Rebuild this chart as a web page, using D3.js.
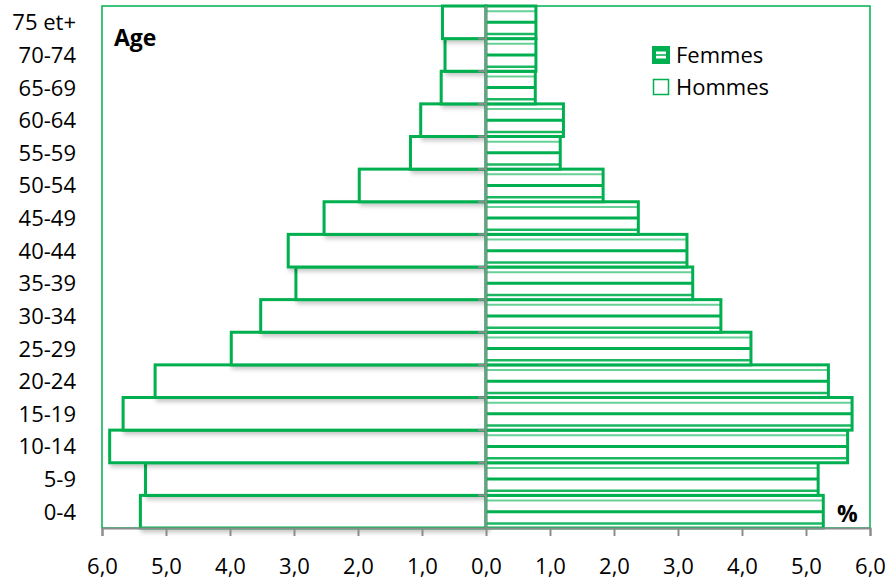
<!DOCTYPE html>
<html>
<head>
<meta charset="utf-8">
<script src="https://cdn.jsdelivr.net/npm/d3@7"></script>
<style>
  body { margin: 0; background: #fff; }
  text { font-family: "Open Sans", sans-serif; }
</style>
</head>
<body>
<svg id="pyramid"></svg>
<script>
const width = 890;
const height = 587;
const margin = {top: 6, right: 20, bottom: 59, left: 102};

// Data (in %)
const ages = ["0-4", "5-9", "10-14", "15-19", "20-24", "25-29", "30-34", "35-39",
              "40-44", "45-49", "50-54", "55-59", "60-64", "65-69", "70-74", "75 et+"];
const hommes = [5.40, 5.32, 5.88, 5.67, 5.17, 3.98, 3.52, 2.97, 3.09, 2.53, 1.98, 1.18, 1.02, 0.70, 0.64, 0.68];
const femmes = [5.27, 5.19, 5.65, 5.72, 5.35, 4.14, 3.67, 3.23, 3.14, 2.38, 1.83, 1.16, 1.21, 0.77, 0.78, 0.78];
const xTicks = [-6, -5, -4, -3, -2, -1, 0, 1, 2, 3, 4, 5, 6];

const green = "#00B050";
const grey = "#8c8c8c";

const svg = d3.select("#pyramid")
  .attr("width", width)
  .attr("height", height);

const defs = svg.append("defs");
const shadow = defs.append("filter")
  .attr("id", "shadow")
  .attr("x", "-10%").attr("y", "-30%")
  .attr("width", "120%").attr("height", "160%");
shadow.append("feDropShadow")
  .attr("dx", 2).attr("dy", 3)
  .attr("stdDeviation", 2)
  .attr("flood-color", "#000")
  .attr("flood-opacity", 0.22);

const x = d3.scaleLinear()
  .domain([-6, 6])
  .range([margin.left, width - margin.right]);

const y = d3.scaleBand()
  .domain(ages.slice().reverse())
  .range([margin.top, height - margin.bottom])
  .paddingInner(0);

const bw = y.bandwidth();

// Plot border
svg.append("rect")
  .attr("x", x(-6))
  .attr("y", margin.top)
  .attr("width", x(6) - x(-6))
  .attr("height", height - margin.bottom - margin.top)
  .attr("fill", "none")
  .attr("stroke", green)
  .attr("stroke-width", 1.5);

// Hommes (left)
svg.append("g")
  .selectAll("rect")
  .data(ages)
  .enter()
  .append("rect")
    .attr("x", (d, i) => x(-hommes[i]))
    .attr("y", d => y(d))
    .attr("width", (d, i) => x(0) - x(-hommes[i]))
    .attr("height", bw)
    .attr("fill", "#fff")
    .attr("stroke", green)
    .attr("stroke-width", 3)
    .attr("filter", "url(#shadow)");

// Femmes (right)
const fem = svg.append("g")
  .selectAll("g")
  .data(ages)
  .enter()
  .append("g");

fem.append("rect")
  .attr("x", x(0))
  .attr("y", d => y(d))
  .attr("width", (d, i) => x(femmes[i]) - x(0))
  .attr("height", bw)
  .attr("fill", "#fff")
  .attr("stroke", green)
  .attr("stroke-width", 3);

// horizontal stripes inside femmes bars
[{f: 0.16, w: 2, o: 0.6}, {f: 0.5, w: 3, o: 1}, {f: 0.86, w: 2.5, o: 0.9}].forEach(s => {
  fem.append("line")
    .attr("x1", x(0))
    .attr("x2", (d, i) => x(femmes[i]))
    .attr("y1", d => y(d) + bw * s.f)
    .attr("y2", d => y(d) + bw * s.f)
    .attr("stroke", green)
    .attr("stroke-width", s.w)
    .attr("stroke-opacity", s.o);
});

// Central axis with ticks at band edges
const center = svg.append("g");
center.append("line")
  .attr("x1", x(0)).attr("x2", x(0))
  .attr("y1", margin.top).attr("y2", height - margin.bottom)
  .attr("stroke", grey)
  .attr("stroke-width", 2);
center.selectAll("line.tk")
  .data(ages.slice(1))
  .enter()
  .append("line")
    .attr("class", "tk")
    .attr("x1", x(0) - 8).attr("x2", x(0))
    .attr("y1", d => y(d) + bw)
    .attr("y2", d => y(d) + bw)
    .attr("stroke", grey)
    .attr("stroke-width", 2);

// Bottom axis
const xAxis = d3.axisBottom(x)
  .tickValues(xTicks)
  .tickSize(8)
  .tickPadding(22)
  .tickFormat(d => d3.format(".1f")(Math.abs(d)).replace(".", ","));

const gx = svg.append("g")
  .attr("transform", `translate(0, ${height - margin.bottom})`)
  .call(xAxis);
gx.select(".domain").attr("stroke", grey).attr("stroke-width", 2);
gx.selectAll(".tick line").attr("stroke", grey).attr("stroke-width", 2);
gx.selectAll(".tick text")
  .attr("font-size", "22px")
  .attr("font-family", "'Open Sans', sans-serif")
  .attr("fill", "#000");

// Age labels
svg.append("g")
  .selectAll("text")
  .data(ages)
  .enter()
  .append("text")
    .attr("x", 76)
    .attr("y", d => y(d) + bw / 2 + 8)
    .attr("text-anchor", "end")
    .attr("font-size", "22px")
    .attr("fill", "#000")
    .text(d => d);

// Titles
svg.append("text")
  .attr("x", 114).attr("y", 46)
  .attr("font-size", "23px")
  .attr("font-weight", "bold")
  .text("Age");

svg.append("text")
  .attr("x", 837).attr("y", 522)
  .attr("font-size", "23px")
  .attr("font-weight", "bold")
  .text("%");

// Legend
const legendData = [
  {label: "Femmes", type: "f"},
  {label: "Hommes", type: "h"}
];

const legend = svg.append("g")
  .attr("transform", "translate(652, 46)");

legendData.forEach((d, i) => {
  const row = legend.append("g").attr("transform", `translate(0, ${i * 32})`);
  if (d.type === "f") {
    row.append("rect")
      .attr("x", 0).attr("y", 0)
      .attr("width", 18).attr("height", 18)
      .attr("fill", green);
    row.append("rect")
      .attr("x", 4).attr("y", 5.5)
      .attr("width", 10).attr("height", 7)
      .attr("fill", "#fff");
    row.append("line")
      .attr("x1", 4).attr("x2", 14)
      .attr("y1", 9).attr("y2", 9)
      .attr("stroke", green)
      .attr("stroke-width", 1.5);
  } else {
    row.append("rect")
      .attr("x", 1.5).attr("y", 1.5)
      .attr("width", 15).attr("height", 15)
      .attr("fill", "#fff")
      .attr("stroke", green)
      .attr("stroke-width", 1.5);
  }
  row.append("text")
    .attr("x", 24)
    .attr("y", 17)
    .attr("font-size", "22px")
    .attr("fill", "#000")
    .text(d.label);
});
</script>
</body>
</html>
